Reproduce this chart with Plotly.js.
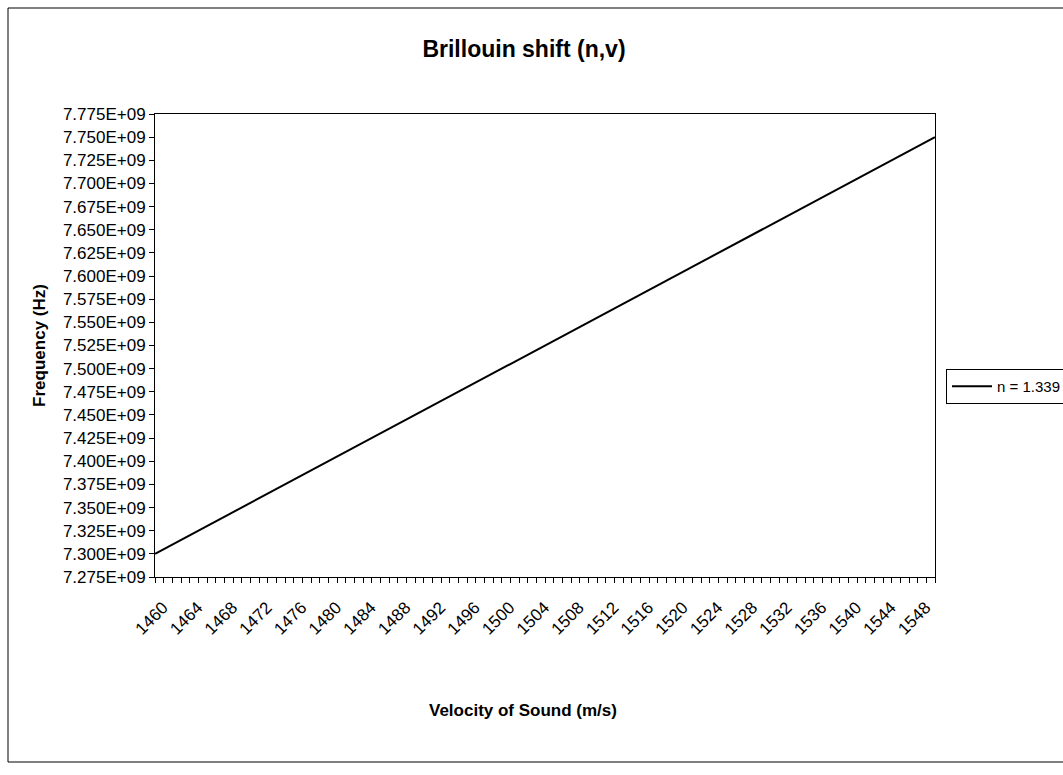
<!DOCTYPE html>
<html>
<head>
<meta charset="utf-8">
<script src="https://cdn.plot.ly/plotly-3.0.1.min.js"></script>
<style>html,body{margin:0;padding:0;background:#fff;}#chart{width:1063px;height:775px;}</style>
</head>
<body>
<div id="chart"></div>
<script>
// Velocity of sound (m/s), one category per 1 m/s
const velocity = [1460,1461,1462,1463,1464,1465,1466,1467,1468,1469,
  1470,1471,1472,1473,1474,1475,1476,1477,1478,1479,
  1480,1481,1482,1483,1484,1485,1486,1487,1488,1489,
  1490,1491,1492,1493,1494,1495,1496,1497,1498,1499,
  1500,1501,1502,1503,1504,1505,1506,1507,1508,1509,
  1510,1511,1512,1513,1514,1515,1516,1517,1518,1519,
  1520,1521,1522,1523,1524,1525,1526,1527,1528,1529,
  1530,1531,1532,1533,1534,1535,1536,1537,1538,1539,
  1540,1541,1542,1543,1544,1545,1546,1547,1548,1549,1550];
// Brillouin shift frequency (Hz), n = 1.339
const frequency = [7.300e9,7.305e9,7.310e9,7.315e9,7.320e9,7.325e9,7.330e9,7.335e9,7.340e9,7.345e9,
  7.350e9,7.355e9,7.360e9,7.365e9,7.370e9,7.375e9,7.380e9,7.385e9,7.390e9,7.395e9,
  7.400e9,7.405e9,7.410e9,7.415e9,7.420e9,7.425e9,7.430e9,7.435e9,7.440e9,7.445e9,
  7.450e9,7.455e9,7.460e9,7.465e9,7.470e9,7.475e9,7.480e9,7.485e9,7.490e9,7.495e9,
  7.500e9,7.505e9,7.510e9,7.515e9,7.520e9,7.525e9,7.530e9,7.535e9,7.540e9,7.545e9,
  7.550e9,7.555e9,7.560e9,7.565e9,7.570e9,7.575e9,7.580e9,7.585e9,7.590e9,7.595e9,
  7.600e9,7.605e9,7.610e9,7.615e9,7.620e9,7.625e9,7.630e9,7.635e9,7.640e9,7.645e9,
  7.650e9,7.655e9,7.660e9,7.665e9,7.670e9,7.675e9,7.680e9,7.685e9,7.690e9,7.695e9,
  7.700e9,7.705e9,7.710e9,7.715e9,7.720e9,7.725e9,7.730e9,7.735e9,7.740e9,7.745e9,7.750e9];
const seriesName = "n = 1.339";

const xTickVals = [1460,1464,1468,1472,1476,1480,1484,1488,1492,1496,1500,1504,1508,1512,1516,1520,1524,1528,1532,1536,1540,1544,1548];
const xTickLabels = ["1460","1464","1468","1472","1476","1480","1484","1488","1492","1496","1500","1504","1508","1512","1516","1520","1524","1528","1532","1536","1540","1544","1548"];
const yTickVals = [7.275e9,7.300e9,7.325e9,7.350e9,7.375e9,7.400e9,7.425e9,7.450e9,7.475e9,7.500e9,7.525e9,7.550e9,7.575e9,7.600e9,7.625e9,7.650e9,7.675e9,7.700e9,7.725e9,7.750e9,7.775e9];
const yTickLabels = ["7.275E+09","7.300E+09","7.325E+09","7.350E+09","7.375E+09","7.400E+09","7.425E+09","7.450E+09","7.475E+09","7.500E+09","7.525E+09","7.550E+09","7.575E+09","7.600E+09","7.625E+09","7.650E+09","7.675E+09","7.700E+09","7.725E+09","7.750E+09","7.775E+09"];
const xTitle = "Velocity of Sound (m/s)";

const FONT = "Liberation Sans, Arial, sans-serif";

const trace = {
  x: velocity, y: frequency, type: "scatter", mode: "lines", name: seriesName,
  line: {color: "#000", width: 2}
};

const L = 155, R = 935, T = 114, B = 577;
const layout = {
  width: 1063, height: 775,
  paper_bgcolor: "#fff", plot_bgcolor: "#fff",
  margin: {l: L, r: 1063 - R, t: T, b: 775 - B},
  font: {family: FONT, color: "#000", size: 14},
  title: {text: "<b>Brillouin shift (n,v)</b>", font: {family: FONT, size: 23, color: "#000"},
    x: 524/1063, xref: "container", xanchor: "center", y: 1 - 49/775, yref: "container", yanchor: "middle"},
  xaxis: {
    range: [1460, 1550], tickmode: "array", tickvals: xTickVals, ticktext: xTickLabels,
    tickangle: -45, ticks: "outside", ticklen: 5, tickcolor: "#000", tickfont: {size: 17, family: FONT},
    ticklabelstandoff: 8, ticklabelshift: 8,
    showline: true, linecolor: "#000", linewidth: 1, mirror: true, showgrid: false, zeroline: false,
    automargin: false,
    minor: {dtick: 1, tick0: 1460, ticks: "outside", ticklen: 5, tickcolor: "#000", showgrid: false}
  },
  yaxis: {
    range: [7.275e9, 7.775e9], tickmode: "array", tickvals: yTickVals, ticktext: yTickLabels,
    ticks: "outside", ticklen: 5, tickcolor: "#000", tickfont: {size: 17, family: FONT},
    showline: true, linecolor: "#000", linewidth: 1, mirror: true, showgrid: false, zeroline: false,
    automargin: false,
    title: {text: "<b>Frequency (Hz)</b>", font: {family: FONT, size: 17, color: "#000"}, standoff: 12}
  },
  annotations: [{text: "<b>" + xTitle + "</b>", xref: "paper", yref: "paper",
    x: (523 - L)/(R - L), y: (B - 710)/(B - T), xanchor: "center", yanchor: "middle",
    showarrow: false, font: {family: FONT, size: 17, color: "#000"}}],
  showlegend: true,
  legend: {xref: "container", yref: "container", x: 946/1063, xanchor: "left", y: 1 - 369/775, yanchor: "top",
    bordercolor: "#000", borderwidth: 1, bgcolor: "#fff", font: {size: 15, family: FONT},
    itemwidth: 40, tracegroupgap: 0},
  shapes: [{type: "rect", xref: "paper", yref: "paper",
    x0: (8-L)/(R-L), x1: (1075-L)/(R-L), y0: (B-762)/(B-T), y1: (B-8)/(B-T),
    line: {color: "#000", width: 1}}]
};

Plotly.newPlot("chart", [trace], layout, {staticPlot: true});
</script>
</body>
</html>
